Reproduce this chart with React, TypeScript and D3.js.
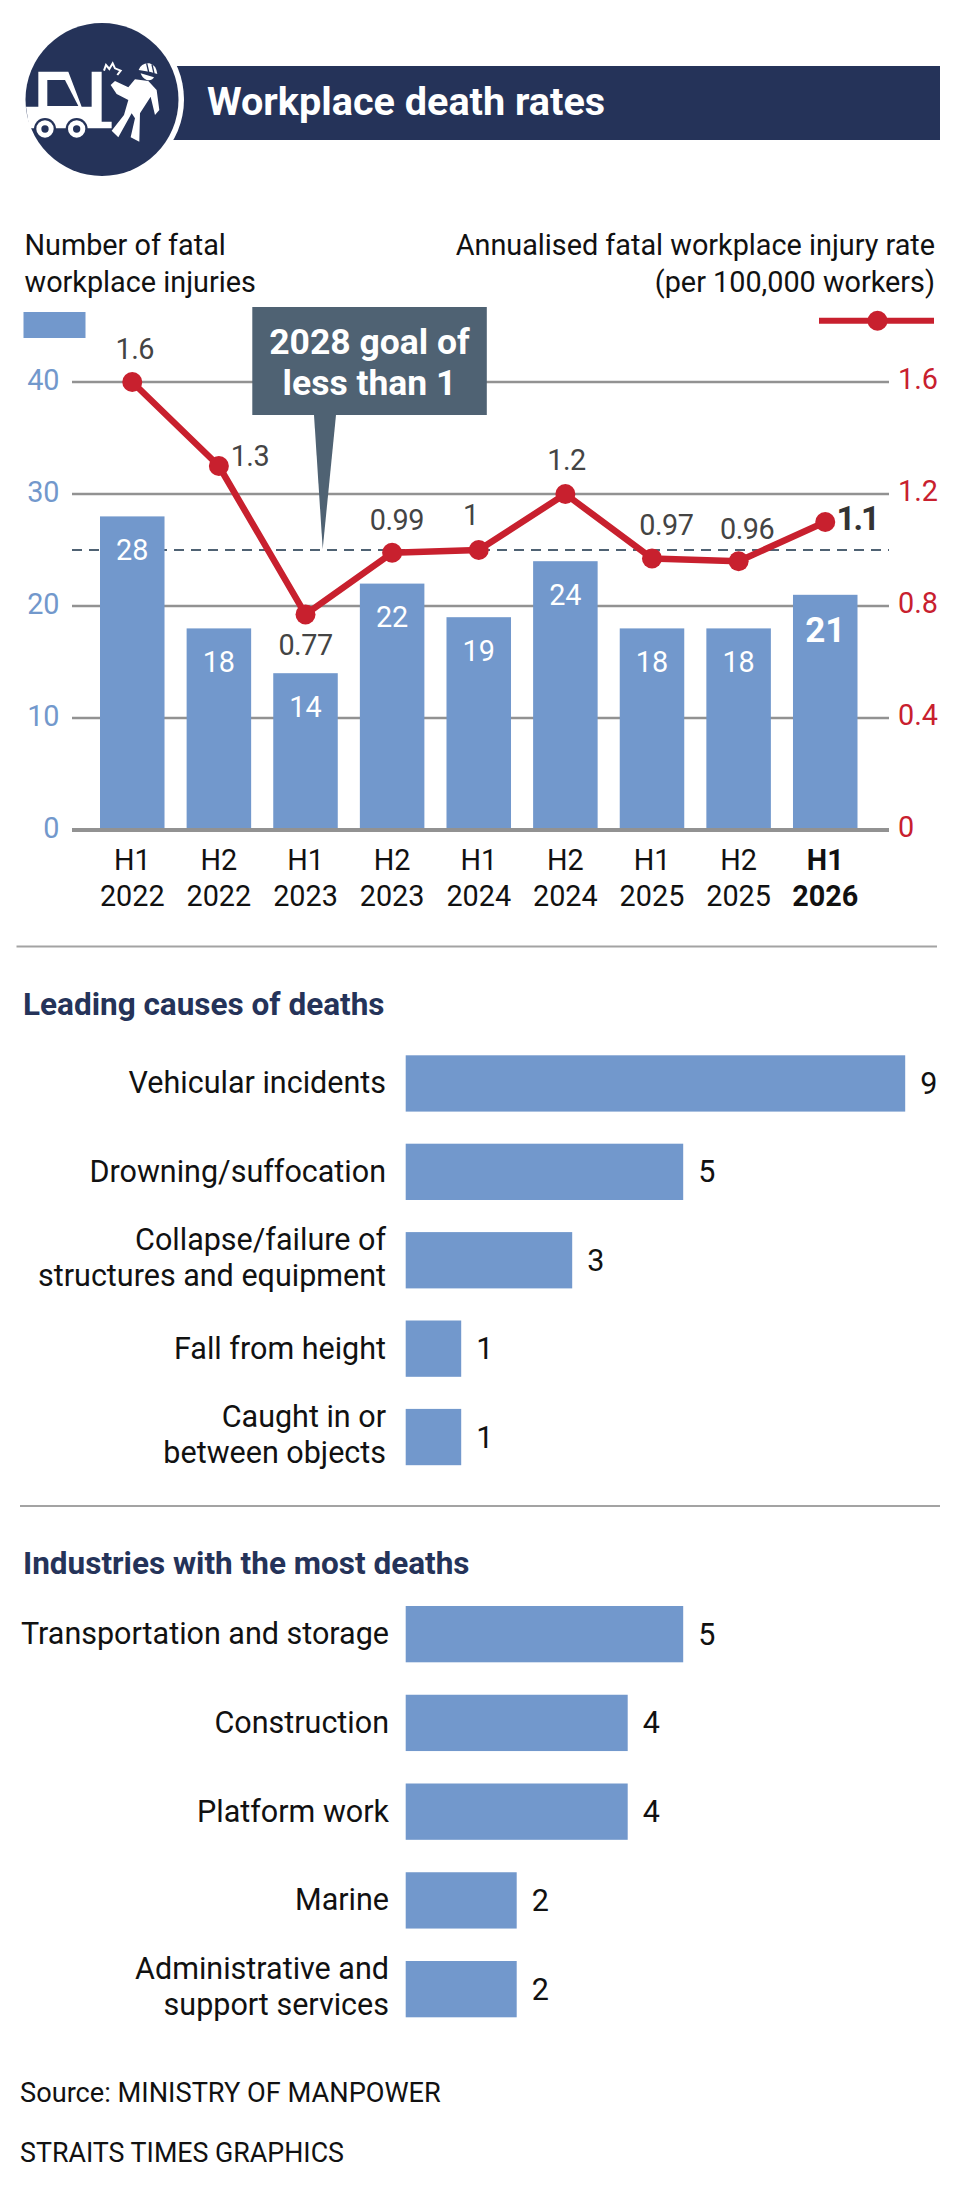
import React from "react";
import * as d3 from "d3";

const periods = ["H1 2022", "H2 2022", "H1 2023", "H2 2023", "H1 2024", "H2 2024", "H1 2025", "H2 2025", "H1 2026"];
const fatalities = [28, 18, 14, 22, 19, 24, 18, 18, 21];
const rates = [1.6, 1.3, 0.77, 0.99, 1, 1.2, 0.97, 0.96, 1.1];
const rateLabels = ["1.6", "1.3", "0.77", "0.99", "1", "1.2", "0.97", "0.96", "1.1"];
const leftTicks = [0, 10, 20, 30, 40];
const rightTicks = [0, 0.4, 0.8, 1.2, 1.6];
const goal = 1;

const causes = ["Vehicular incidents", "Drowning/suffocation", "Collapse/failure of|structures and equipment", "Fall from height", "Caught in or|between objects"];
const causeValues = [9, 5, 3, 1, 1];
const industries = ["Transportation and storage", "Construction", "Platform work", "Marine", "Administrative and|support services"];
const industryValues = [5, 4, 4, 2, 2];

// label nudges around the line markers (layout only)
const rateLabelDx = [2.5, 31, 0, 4.7, -7.8, 1.2, 14.3, 8.5, 32];
const rateLabelDy = [-23, 0, 40.4, -23.3, -24.6, -24.4, -23, -22.4, 7.5];

const NAVY = "#253359";
const BLUE = "#7298cc";
const RED = "#c8202e";
const GRID = "#929292";
const SLATE = "#4f6273";
const FONT = "Roboto, 'Liberation Sans', sans-serif";
const SIZE = 28.8;
const LABEL = 30.5;

const x = d3.scaleBand<string>().domain(periods).range([100, 857.5]).paddingInner(0.2552).paddingOuter(0);
const yL = d3.scaleLinear().domain([0, 40]).range([830, 382]);
const yR = d3.scaleLinear().domain([0, 1.6]).range([830, 382]);
const cx = (p: string) => (x(p) as number) + x.bandwidth() / 2;
const line = d3.line<number>().x((_, i) => cx(periods[i])).y((d) => yR(d));

const hx = d3.scaleLinear().domain([0, 9]).range([405.7, 905.2]);

function HBars({ labels, values, top, step, labelRight }: { labels: string[]; values: number[]; top: number; step: number; labelRight: number }) {
  const h = 56.3;
  const band = d3.scaleBand<string>().domain(labels).range([top, top + step * (labels.length - 1) + h]).paddingInner(1 - h / step).paddingOuter(0);
  return (
    <g>
      {labels.map((l, i) => {
        const y = band(l) as number;
        const parts = l.split("|");
        const mid = y + band.bandwidth() / 2;
        return (
          <g key={l}>
            <rect x={hx(0)} y={y} width={hx(values[i]) - hx(0)} height={band.bandwidth()} fill={BLUE} />
            {parts.map((p, j) => (
              <text key={p} x={labelRight} y={mid + (parts.length === 2 ? (j === 0 ? -10 : 26) : 10)} textAnchor="end" fontSize={LABEL} fill="#111">{p}</text>
            ))}
            <text x={hx(values[i]) + 15} y={mid + 10.5} fontSize={LABEL} fill="#111">{values[i]}</text>
          </g>
        );
      })}
    </g>
  );
}

function Icon() {
  return (
    <g>
      <rect x={150} y={66} width={790} height={74} fill={NAVY} />
      <circle cx={102} cy={99.5} r={82} fill="#fff" />
      <circle cx={102} cy={99.5} r={76.5} fill={NAVY} />
      <g transform="scale(0.3333)" fill="#fff">
        <path d="M115 215H205L245 320H275V215H305V365H335V385H88L78 320H115Z" />
        <path d="M142 240H195L235 318H142Z" fill={NAVY} />
        <circle cx={135} cy={387} r={33} fill={NAVY} />
        <circle cx={230} cy={387} r={33} fill={NAVY} />
        <circle cx={135} cy={387} r={26} />
        <circle cx={230} cy={387} r={26} />
        <circle cx={135} cy={387} r={11} fill={NAVY} />
        <circle cx={230} cy={387} r={11} fill={NAVY} />
        <path d="M332 255L345 243L385 262L405 238L445 243L470 270L478 330L465 345L452 290L420 340L418 425L392 412L405 355L395 340L355 412L335 392L372 345L385 300L350 282Z" />
        <path d="M416 210Q424 188 448 190Q468 194 472 222L452 216Z" />
        <path d="M422 220L462 232Q456 243 440 240Q426 234 422 220Z" />
        <path d="M440 190L446 216M456 193L462 220" fill="none" stroke={NAVY} strokeWidth={4} />
        <path d="M312 212L318 195L328 207L338 190L345 205L362 212L352 225" fill="none" stroke="#fff" strokeWidth={6} />
      </g>
    </g>
  );
}

export default function App() {
  return (
    <svg width={960} height={2190} viewBox="0 0 960 2190" fontFamily={FONT} style={{ position: "absolute", left: 0, top: 0, background: "#fff" }}>
      <Icon />
      <text x={207} y={115} fontSize={39.6} fontWeight={700} fill="#fff">Workplace death rates</text>

      <text x={24.5} y={255} fontSize={SIZE} fill="#111">Number of fatal</text>
      <text x={24.5} y={291.7} fontSize={SIZE} fill="#111">workplace injuries</text>
      <text x={935} y={255} fontSize={SIZE} textAnchor="end" fill="#111">Annualised fatal workplace injury rate</text>
      <text x={935} y={291.7} fontSize={SIZE} textAnchor="end" fill="#111">(per 100,000 workers)</text>
      <rect x={23.5} y={312} width={62} height={26} fill={BLUE} />
      <line x1={819} x2={934} y1={320.7} y2={320.7} stroke={RED} strokeWidth={6} />
      <circle cx={877.5} cy={320.7} r={10} fill={RED} />

      {leftTicks.filter((t) => t > 0).map((t) => (
        <line key={t} x1={72} x2={889} y1={yL(t)} y2={yL(t)} stroke={GRID} strokeWidth={2.5} />
      ))}
      <line x1={72} x2={889} y1={yR(goal)} y2={yR(goal)} stroke={SLATE} strokeWidth={2} strokeDasharray="10 7" />
      {periods.map((p, i) => (
        <rect key={p} x={x(p)} y={yL(fatalities[i])} width={x.bandwidth()} height={yL(0) - yL(fatalities[i])} fill={BLUE} />
      ))}
      <line x1={72} x2={889} y1={yL(0)} y2={yL(0)} stroke={GRID} strokeWidth={4} />

      {leftTicks.map((t) => (
        <text key={t} x={59.5} y={yL(t) + 8} textAnchor="end" fontSize={SIZE} fill={BLUE}>{t}</text>
      ))}
      {rightTicks.map((t) => (
        <text key={t} x={898} y={yR(t) + 7} fontSize={SIZE} fill={RED}>{t === 0 ? "0" : t.toFixed(1)}</text>
      ))}

      <path d={`M314 415H336L322.7 ${yR(goal) - 1}Z`} fill={SLATE} />
      <rect x={252.3} y={307} width={234.5} height={108} fill={SLATE} />
      <text x={369.5} y={354} textAnchor="middle" fontSize={35.5} fontWeight={700} fill="#fff">2028 goal of</text>
      <text x={369.5} y={395} textAnchor="middle" fontSize={35.5} fontWeight={700} fill="#fff">less than 1</text>

      {periods.map((p, i) => {
        const last = i === periods.length - 1;
        return (
          <text key={p} x={cx(p)} y={yL(fatalities[i]) + (last ? 47 : 43.5)} textAnchor="middle" fontSize={last ? 35 : SIZE} fontWeight={last ? 700 : 400} fill="#fff">{fatalities[i]}</text>
        );
      })}

      <path d={line(rates) as string} fill="none" stroke={RED} strokeWidth={6.5} strokeLinejoin="round" />
      {rates.map((r, i) => (
        <circle key={i} cx={cx(periods[i])} cy={yR(r)} r={10} fill={RED} />
      ))}
      {rateLabels.map((l, i) => {
        const last = i === rateLabels.length - 1;
        return (
          <text key={i} x={cx(periods[i]) + rateLabelDx[i]} y={yR(rates[i]) + rateLabelDy[i]} textAnchor="middle" fontSize={last ? 33 : SIZE} letterSpacing={last ? -2 : -0.5} fontWeight={last ? 700 : 400} fill={last ? "#333" : "#444"}>{l}</text>
        );
      })}

      {periods.map((p, i) => {
        const [a, b] = p.split(" ");
        const last = i === periods.length - 1;
        return (
          <g key={p} fontWeight={last ? 700 : 400} fontSize={SIZE} fill="#111" textAnchor="middle">
            <text x={cx(p)} y={870}>{a}</text>
            <text x={cx(p)} y={905.5}>{b}</text>
          </g>
        );
      })}

      <line x1={16.5} x2={937} y1={946.5} y2={946.5} stroke="#a3a3a3" strokeWidth={2} />
      <text x={23} y={1015} fontSize={31.5} fontWeight={700} fill={NAVY}>Leading causes of deaths</text>
      <HBars labels={causes} values={causeValues} top={1055.3} step={88.4} labelRight={386} />

      <line x1={20} x2={940} y1={1506} y2={1506} stroke="#a3a3a3" strokeWidth={2} />
      <text x={23} y={1574} fontSize={31.5} fontWeight={700} fill={NAVY}>Industries with the most deaths</text>
      <HBars labels={industries} values={industryValues} top={1606} step={88.75} labelRight={389} />

      <text x={20} y={2101.7} fontSize={27.2} fill="#111">Source: MINISTRY OF MANPOWER</text>
      <text x={20} y={2161.7} fontSize={26.8} fill="#111">STRAITS TIMES GRAPHICS</text>
    </svg>
  );
}
